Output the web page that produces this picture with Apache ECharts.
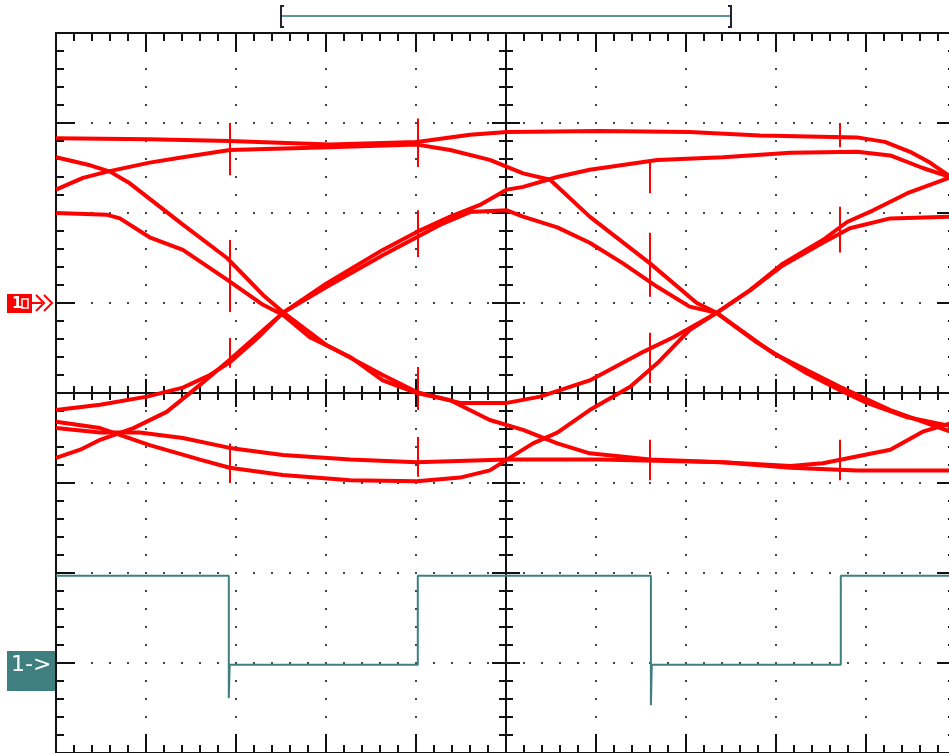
<!DOCTYPE html>
<html>
<head>
<meta charset="utf-8">
<title>Eye diagram</title>
<script src="https://cdn.jsdelivr.net/npm/echarts@6/dist/echarts.min.js"></script>
<style>
  html, body { margin: 0; padding: 0; background: #fff; }
  #main { width: 949px; height: 753px; }
</style>
</head>
<body>
<div id="main"></div>
<script>
// screen units: x and y in divisions, centre of the screen is 0,0
const xRange = [-5, 5]
const yRange = [-4, 4]

// red channel, eye traces [x, y]
const trace1 = [[-5, 2.83], [-3.96, 2.82], [-3.07, 2.8], [-1.96, 2.76], [-0.99, 2.79], [-0.4, 2.87], [0.01, 2.9], [1.04, 2.91], [2.04, 2.9], [2.82, 2.86], [3.9, 2.84], [4.21, 2.79], [4.49, 2.68], [4.71, 2.56], [5, 2.36]]
const trace2 = [[-5, 2.62], [-4.62, 2.53], [-4.4, 2.46], [-4.18, 2.33], [-3.59, 1.87], [-3.1, 1.5], [-2.7, 1.09], [-2.48, 0.9], [-1.99, 0.53], [-1.37, 0.2], [-0.99, 0.01], [-0.51, -0.11], [0.01, -0.11], [0.38, -0.04], [0.93, 0.14], [1.49, 0.44], [1.86, 0.62], [2.34, 0.89], [2.71, 1.14], [3.08, 1.44], [3.52, 1.7], [3.79, 1.9], [4.08, 2.03], [4.46, 2.22], [5, 2.42]]
const trace3 = [[-5, 2.26], [-4.7, 2.39], [-4.43, 2.46], [-3.96, 2.56], [-3.59, 2.62], [-3.07, 2.7], [-1.96, 2.73], [-0.99, 2.76], [-0.62, 2.7], [-0.18, 2.59], [0.19, 2.44], [0.49, 2.37], [0.93, 1.96], [1.6, 1.44], [2.12, 1.0], [2.34, 0.89], [2.97, 0.44], [3.71, 0.07], [4.27, -0.19], [5, -0.45]]
const trace4 = [[-5, 2.0], [-4.43, 1.98], [-4.29, 1.94], [-3.96, 1.73], [-3.59, 1.59], [-3.1, 1.26], [-2.7, 0.98], [-2.48, 0.87], [-2.18, 0.62], [-1.73, 0.4], [-1.37, 0.14], [-0.99, 0.0], [-0.62, -0.08], [-0.18, -0.3], [0.19, -0.41], [0.57, -0.56], [0.93, -0.67], [1.6, -0.74], [2.41, -0.77], [3.16, -0.81], [3.52, -0.78], [4.27, -0.63], [4.63, -0.43], [5, -0.32]]
const trace5 = [[-5, -0.19], [-4.51, -0.13], [-3.99, -0.04], [-3.59, 0.06], [-3.29, 0.2], [-3.07, 0.34], [-2.73, 0.64], [-2.48, 0.89], [-1.99, 1.22], [-1.37, 1.59], [-0.99, 1.79], [-0.62, 1.96], [-0.29, 2.09], [0.01, 2.26], [0.19, 2.29], [0.57, 2.4], [0.93, 2.48], [1.68, 2.59], [2.41, 2.62], [3.16, 2.67], [3.9, 2.68], [4.27, 2.64], [4.63, 2.5], [5, 2.38]]
const trace6 = [[-5, -0.72], [-4.73, -0.63], [-4.51, -0.52], [-4.14, -0.39], [-3.77, -0.21], [-3.4, 0.09], [-3.07, 0.37], [-2.73, 0.67], [-2.48, 0.89], [-1.99, 1.18], [-1.37, 1.53], [-0.73, 1.87], [-0.4, 2.01], [0.01, 2.03], [0.19, 1.96], [0.57, 1.84], [0.93, 1.67], [1.3, 1.44], [1.68, 1.18], [2.04, 0.96], [2.34, 0.89], [2.79, 0.56], [3.34, 0.22], [3.71, 0.03], [4.01, -0.11], [4.46, -0.27], [5, -0.38]]
const trace7 = [[-5, -0.39], [-4.51, -0.44], [-4.07, -0.44], [-3.59, -0.5], [-3.07, -0.61], [-2.48, -0.69], [-1.73, -0.74], [-0.99, -0.77], [0.01, -0.74], [1.04, -0.74], [2.41, -0.77], [3.16, -0.83], [3.9, -0.86], [5, -0.86]]
const trace8 = [[-5, -0.32], [-4.51, -0.39], [-3.96, -0.58], [-3.4, -0.74], [-3.07, -0.83], [-2.48, -0.91], [-1.73, -0.97], [-0.99, -0.98], [-0.51, -0.94], [-0.18, -0.86], [0.01, -0.74], [0.3, -0.56], [0.57, -0.44], [0.93, -0.19], [1.38, 0.07], [1.68, 0.33], [2.04, 0.7], [2.34, 0.89], [2.71, 1.14], [3.08, 1.42], [3.52, 1.67], [3.82, 1.83], [4.27, 1.94], [5, 1.96]]
const eyeTraces = [trace1, trace2, trace3, trace4, trace5, trace6, trace7, trace8]

// short vertical glitches on the red traces: [x, yFrom, yTo]
const glitches = [
  [-3.07, 3.0, 2.42], [-3.07, 1.7, 0.9], [-3.07, 0.61, 0.28], [-3.07, -0.56, -1.0],
  [-0.98, 3.05, 2.51], [-0.98, 2.03, 1.51], [-0.98, 0.29, -0.19], [-0.98, -0.49, -0.93],
  [1.6, 2.59, 2.22], [1.6, 1.78, 1.07], [1.6, 0.67, 0.11], [1.6, -0.52, -0.97],
  [3.71, 3.0, 2.73], [3.71, 2.07, 1.56], [3.71, -0.52, -0.97]
]

// channel 1 clock (teal)
const clockTrace = [[-5, -2.03], [-3.08, -2.03], [-3.08, -3.39], [-3.07, -3.02], [-0.98, -3.02], [-0.98, -2.03], [1.61, -2.03], [1.61, -3.47], [1.62, -3.02], [3.72, -3.02], [3.72, -2.03], [5, -2.03]]

// marker levels and the time window bracket
const redRefLevel = 1
const clockRefLevel = -3
const windowSpan = [-2.5, 2.5]

const RED = "#ff0000"
const TEAL = "#3f7f7f"
const INK = "#111"

const chart = echarts.init(document.getElementById("main"), null, { renderer: "canvas" })

const dotted = { show: true, lineStyle: { color: "#444", width: 2, type: [2, 16], dashOffset: 1 } }

const frameAxis = (position, withSplit) => ({
  type: "value",
  min: position === "left" || position === "right" ? yRange[0] : xRange[0],
  max: position === "left" || position === "right" ? yRange[1] : xRange[1],
  interval: 1,
  position: position,
  axisLine: { show: true, onZero: false, lineStyle: { color: INK, width: 2 } },
  axisTick: { show: true, inside: true, length: 19, lineStyle: { color: INK, width: 2 } },
  minorTick: { show: true, splitNumber: 5, length: 8, lineStyle: { color: INK, width: 2 } },
  axisLabel: { show: false },
  splitLine: withSplit ? dotted : { show: false },
})

const centreAxis = (isX, inside) => ({
  type: "value",
  min: isX ? xRange[0] : yRange[0],
  max: isX ? xRange[1] : yRange[1],
  interval: 1,
  position: isX ? "bottom" : "left",
  axisLine: { show: true, onZero: true, onZeroAxisIndex: 0, lineStyle: { color: INK, width: 2 } },
  axisTick: { show: true, inside: inside, length: 14, lineStyle: { color: INK, width: 2 } },
  minorTick: { show: true, splitNumber: 5, length: 7, lineStyle: { color: INK, width: 2 } },
  axisLabel: { show: false },
  splitLine: { show: false },
})

const option = {
  animation: false,
  backgroundColor: "#fff",
  grid: { left: 56, top: 33, width: 900, height: 720, containLabel: false, outerBoundsMode: "none" },
  xAxis: [
    frameAxis("bottom", true),
    frameAxis("top", false),
    centreAxis(true, true),
    centreAxis(true, false),
  ],
  yAxis: [
    frameAxis("left", true),
    frameAxis("right", false),
    centreAxis(false, true),
    centreAxis(false, false),
  ],
  series: [
    ...eyeTraces.map((t, i) => ({
      name: "eye" + (i + 1),
      type: "line",
      data: t,
      symbol: "none",
      silent: true,
      lineStyle: { color: RED, width: 4 },
      z: 3,
    })),
    {
      name: "glitches",
      type: "lines",
      coordinateSystem: "cartesian2d",
      silent: true,
      data: glitches.map(g => ({ coords: [[g[0], g[1]], [g[0], g[2]]] })),
      lineStyle: { color: RED, width: 2, opacity: 1 },
      z: 3,
    },
    {
      name: "clock",
      type: "line",
      data: clockTrace,
      symbol: "none",
      silent: true,
      lineStyle: { color: TEAL, width: 2 },
      z: 3,
    },
  ],
}

chart.setOption(option)

// annotations placed from the axis scales
const redY = chart.convertToPixel({ gridIndex: 0 }, [0, redRefLevel])[1]
const clkY = chart.convertToPixel({ gridIndex: 0 }, [0, clockRefLevel])[1]
const wx1 = chart.convertToPixel({ gridIndex: 0 }, [windowSpan[0], 0])[0]
const wx2 = chart.convertToPixel({ gridIndex: 0 }, [windowSpan[1], 0])[0]

chart.setOption({
  graphic: [
    // time window bracket
    { type: "line", shape: { x1: wx1, y1: 16, x2: wx2, y2: 16 }, style: { stroke: "#5b9696", lineWidth: 2 } },
    { type: "polyline", shape: { points: [[wx1 + 3, 6], [wx1, 6], [wx1, 27], [wx1 + 3, 27]] }, style: { stroke: "#223", lineWidth: 2, fill: null } },
    { type: "polyline", shape: { points: [[wx2 - 3, 6], [wx2, 6], [wx2, 27], [wx2 - 3, 27]] }, style: { stroke: "#223", lineWidth: 2, fill: null } },
    // red channel reference
    { type: "rect", shape: { x: 7, y: redY - 9, width: 25, height: 19 }, style: { fill: RED } },
    { type: "text", x: 12, y: redY + 1, style: { text: "1", fill: "#fff", font: "bold 15px 'DejaVu Sans'", verticalAlign: "middle" } },
    { type: "rect", shape: { x: 22, y: redY - 4, width: 6, height: 9 }, style: { fill: null, stroke: "#fff", lineWidth: 1.5 } },
    { type: "line", shape: { x1: 32, y1: redY, x2: 42, y2: redY }, style: { stroke: RED, lineWidth: 2 } },
    { type: "polyline", shape: { points: [[36, redY - 8], [44, redY], [36, redY + 8]] }, style: { stroke: RED, lineWidth: 2, fill: null } },
    { type: "polyline", shape: { points: [[44, redY - 8], [52, redY], [44, redY + 8]] }, style: { stroke: RED, lineWidth: 2, fill: null } },
    // clock channel reference
    { type: "rect", shape: { x: 7, y: clkY - 12, width: 48, height: 40 }, style: { fill: TEAL } },
    { type: "text", x: 11, y: clkY + 2, style: { text: "1->", fill: "#fff", font: "22px 'DejaVu Sans'", verticalAlign: "middle" } },
  ],
})

window.addEventListener("resize", chart.resize)
</script>
</body>
</html>
